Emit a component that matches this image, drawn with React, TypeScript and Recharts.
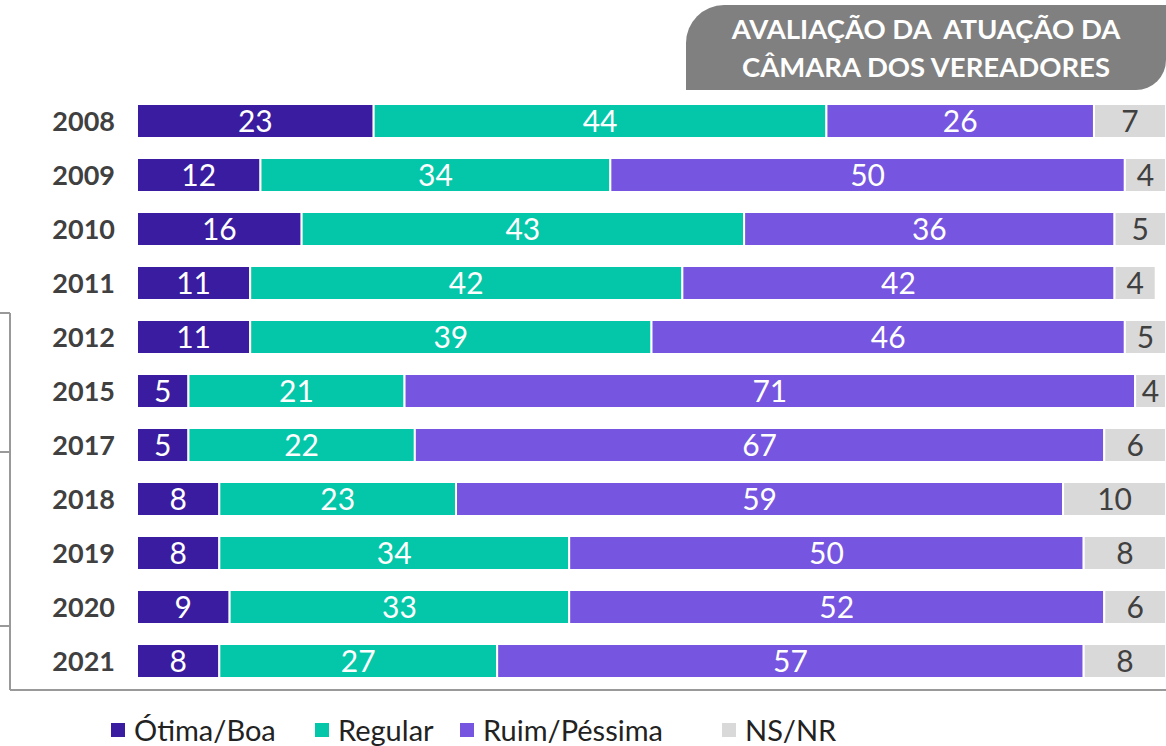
import React from 'react'
import { BarChart, Bar, XAxis, YAxis, LabelList } from 'recharts'

const years = ['2008', '2009', '2010', '2011', '2012', '2015', '2017', '2018', '2019', '2020', '2021']
const otimaBoa = [23, 12, 16, 11, 11, 5, 5, 8, 8, 9, 8]
const regular = [44, 34, 43, 42, 39, 21, 22, 23, 34, 33, 27]
const ruimPessima = [26, 50, 36, 42, 46, 71, 67, 59, 50, 52, 57]
const nsnr = [7, 4, 5, 4, 5, 4, 6, 10, 8, 6, 8]

const seriesNames = ['Ótima/Boa', 'Regular', 'Ruim/Péssima', 'NS/NR']
const seriesColors = ['#391C9F', '#03C7A8', '#7655E0', '#D9D9D9']

const data = years.map((y, i) => ({
  year: y,
  otima: otimaBoa[i],
  regular: regular[i],
  ruim: ruimPessima[i],
  nsnr: nsnr[i]
}))

const FONT = 'Lato, "Open Sans", sans-serif'

const YearTick = ({ y, payload }: any) => (
  <text x={115} y={y} dy={10} textAnchor="end" fill="#404040" fontSize={27} fontWeight="bold" fontFamily={FONT}>
    {payload.value}
  </text>
)

// legend square positions from the original layout
const legendLeft = [111, 315, 460, 722]

export default function App() {
  const keys = ['otima', 'regular', 'ruim', 'nsnr']
  return (
    <div style={{ position: 'absolute', left: 0, top: 0, width: 1166, height: 746, background: '#fff', overflow: 'hidden', fontFamily: FONT }}>
      {/* title box */}
      <div style={{
        position: 'absolute', left: 686, top: 5, width: 480, height: 85,
        background: '#808080', borderRadius: '38px 0 30px 0',
        color: '#fff', fontWeight: 'bold', fontSize: 27.5, lineHeight: '38px',
        textAlign: 'center', paddingTop: 5, boxSizing: 'border-box', paddingLent: 4
      } as any}>
        AVALIAÇÃO DA&nbsp; ATUAÇÃO DA<br />CÂMARA DOS VEREADORES
      </div>

      {/* bracket lines */}
      <svg width={1166} height={746} style={{ position: 'absolute', left: 0, top: 0 }}>
        <g stroke="#999" strokeWidth={2} fill="none">
          <line x1={10} y1={313} x2={10} y2={690} />
          <line x1={0} y1={313} x2={10} y2={313} />
          <line x1={0} y1={452} x2={10} y2={452} />
          <line x1={0} y1={626} x2={10} y2={626} />
          <line x1={10} y1={690} x2={1166} y2={690} />
        </g>
      </svg>

      <div style={{ position: 'absolute', left: 0, top: 0 }}>
        <BarChart
          width={1166}
          height={746}
          data={data}
          layout="vertical"
          margin={{ top: 94, right: 0, bottom: 58, left: 0 }}
          barCategoryGap={10}
        >
          <XAxis type="number" domain={[0, 100]} hide allowDataOverflow />
          <YAxis type="category" dataKey="year" width={137} axisLine={false} tickLine={false} tick={<YearTick />} interval={0} />
          {keys.map((k, i) => (
            <Bar key={k} dataKey={k} stackId="a" fill={seriesColors[i]} stroke="#fff" strokeWidth={2} isAnimationActive={false}>
              <LabelList
                dataKey={k}
                position="center"
                fill={k === 'nsnr' ? '#404040' : '#fff'}
                fontSize={30}
                fontFamily={FONT}
              />
            </Bar>
          ))}
        </BarChart>
      </div>

      {/* legend */}
      {seriesNames.map((n, i) => (
        <div key={n} style={{ position: 'absolute', left: legendLeft[i], top: 712, display: 'flex', alignItems: 'center', fontSize: 29, color: '#222', whiteSpace: 'nowrap' }}>
          <span style={{ display: 'inline-block', width: 14, height: 14, background: seriesColors[i], marginRight: 9 }} />
          <span>{n}</span>
        </div>
      ))}
    </div>
  )
}
